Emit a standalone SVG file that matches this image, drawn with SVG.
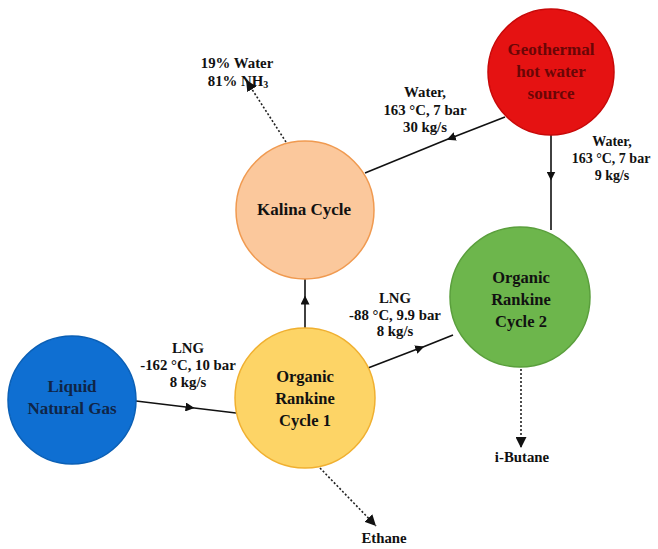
<svg xmlns="http://www.w3.org/2000/svg" width="658" height="549" viewBox="0 0 658 549">
<style>
text{font-family:"Liberation Serif","Times New Roman",serif;font-weight:bold;text-anchor:middle;fill:#111}
.lbl{font-size:14.8px}
.node{font-size:17px}
.orc{font-size:16.5px}
.c{stroke-width:1.5}
.solid{stroke:#111;stroke-width:1.6;fill:none}
.dot{stroke:#222;stroke-width:1.6;fill:none;stroke-dasharray:2 2}
</style>
<defs>
<marker id="ah" viewBox="0 0 10 10" refX="5" refY="5" markerWidth="9" markerHeight="9" orient="auto" markerUnits="userSpaceOnUse"><path d="M0,0L10,5L0,10z" fill="#111"/></marker>
<marker id="ahd" viewBox="0 0 10 10" refX="10" refY="5" markerWidth="11" markerHeight="11" orient="auto" markerUnits="userSpaceOnUse"><path d="M0,0L10,5L0,10z" fill="#111"/></marker>
</defs>
<rect width="658" height="549" fill="#fff"/>
<g id="connectors">
<path class="solid" d="M136,401 L190,407.5" marker-end="url(#ah)"/><path class="solid" d="M188,407.2 L236,413"/>
<path class="solid" d="M305,330 L305,300" marker-end="url(#ah)"/><path class="solid" d="M305,302 L305,279"/>
<path class="solid" d="M368,368 L420,348" marker-end="url(#ah)"/><path class="solid" d="M418,349 L453,335"/>
<path class="solid" d="M505,117 L451,138" marker-end="url(#ah)"/><path class="solid" d="M453,137 L365,173"/>
<path class="solid" d="M551,135 L551,176" marker-end="url(#ah)"/><path class="solid" d="M551,174 L551,230"/>
<path class="dot" d="M286,142 L246,80" marker-end="url(#ahd)"/>
<path class="dot" d="M320,468 L376,526" marker-end="url(#ahd)"/>
<path class="dot" d="M521,365 L521,448" marker-end="url(#ahd)"/>
</g>
<g id="lng">
<circle cx="72" cy="400" r="64" fill="#0F6FD2" stroke="#0A5FB5" class="c"/>
<text class="node" x="72" y="392" style="fill:#0f2547">Liquid</text>
<text class="node" x="72" y="414" style="fill:#0f2547">Natural Gas</text>
</g>
<g id="orc1">
<circle cx="305" cy="398" r="70" fill="#FDD466" stroke="#F0B030" class="c"/>
<text class="orc" x="305" y="382">Organic</text>
<text class="orc" x="305" y="404">Rankine</text>
<text class="orc" x="305" y="426">Cycle 1</text>
</g>
<g id="kalina">
<circle cx="305" cy="210" r="69" fill="#FBC89C" stroke="#F09A50" class="c"/>
<text class="node" x="304" y="215">Kalina Cycle</text>
</g>
<g id="geo">
<circle cx="551" cy="72" r="63" fill="#E51212" stroke="#C80808" class="c"/>
<text class="node" x="551" y="55" style="fill:#6a0606">Geothermal</text>
<text class="node" x="551" y="77" style="fill:#6a0606">hot water</text>
<text class="node" x="551" y="99" style="fill:#6a0606">source</text>
</g>
<g id="orc2">
<circle cx="520" cy="297" r="70" fill="#6DB64C" stroke="#5A9F3C" class="c"/>
<text class="orc" x="521" y="283">Organic</text>
<text class="orc" x="521" y="305">Rankine</text>
<text class="orc" x="521" y="327">Cycle 2</text>
</g>
<g id="labels">
<text class="lbl" x="237" y="68">19% Water</text>
<text class="lbl" x="238" y="86">81% NH<tspan font-size="10" dy="2">3</tspan></text>
<text class="lbl" x="425" y="97">Water,</text>
<text class="lbl" x="425" y="115">163 °C, 7 bar</text>
<text class="lbl" x="425" y="132">30 kg/s</text>
<text class="lbl" x="612" y="146" style="font-size:14px">Water,</text>
<text class="lbl" x="611" y="163" style="font-size:14px">163 °C, 7 bar</text>
<text class="lbl" x="612" y="180" style="font-size:14px">9 kg/s</text>
<text class="lbl" x="188" y="353">LNG</text>
<text class="lbl" x="188" y="370">-162 °C, 10 bar</text>
<text class="lbl" x="188" y="387">8 kg/s</text>
<text class="lbl" x="395" y="303">LNG</text>
<text class="lbl" x="395" y="320">-88 °C, 9.9 bar</text>
<text class="lbl" x="395" y="336">8 kg/s</text>
<text class="lbl" x="522" y="462">i-Butane</text>
<text class="lbl" x="384" y="543">Ethane</text>
</g>
</svg>
